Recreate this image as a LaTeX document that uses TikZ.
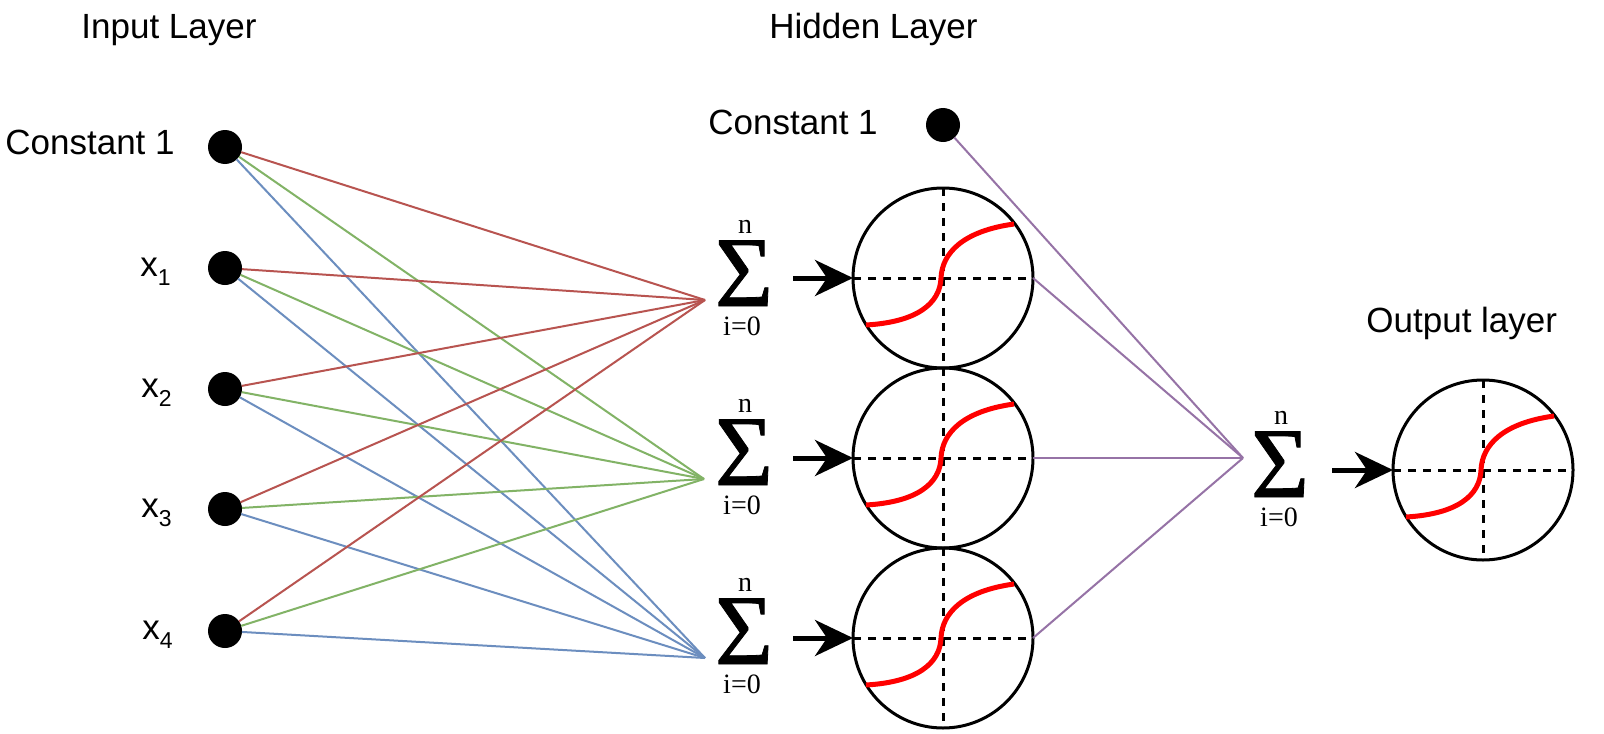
\documentclass[tikz,border=0pt]{standalone}
\usepackage{fontspec}
\setmainfont{Liberation Sans}
\newfontfamily\sigmafont{Liberation Serif}
\newfontfamily\bigsigmafont[FakeBold=0.8]{Liberation Serif}
\usetikzlibrary{arrows.meta}
\definecolor{wred}{HTML}{B85450}
\definecolor{wgreen}{HTML}{82B366}
\definecolor{wblue}{HTML}{6C8EBF}
\definecolor{wpurple}{HTML}{9673A6}

\begin{document}
\begin{tikzpicture}[x=0.5pt,y=-0.5pt,
  txt/.style={inner sep=0pt, font=\fontsize{17.5}{20}\selectfont},
  dot/.style={circle, fill=black, inner sep=0pt, outer sep=0pt, minimum size=17pt},
  unit/.style={circle, draw=black, line width=1.5pt, inner sep=0pt, outer sep=0pt, minimum size=90pt},
  axisline/.style={line width=1.5pt, dash pattern=on 4pt off 3.5pt},
  sigcurve/.style={red, line width=2.5pt},
  sumsign/.style={inner sep=0pt, anchor=base, text height=33pt, text depth=0pt,
    font=\bigsigmafont\fontsize{50}{50}\selectfont},
  sumidx/.style={inner sep=0pt, anchor=base, text height=9.5pt, text depth=0pt,
    font=\sigmafont\fontsize{14}{16}\selectfont},
  feed/.style={line width=2.5pt, -{Stealth[length=19pt, width=18pt, inset=6pt]}},
  wire/.style={line width=1pt}]

% canvas
\fill[white] (0,0) rectangle (1604,733);
\useasboundingbox (0,0) rectangle (1604,733);

% layer titles
\node[txt, anchor=base west] (tin) at (81,39) {Input Layer};
\node[txt, anchor=base west] (thid) at (769,39) {Hidden Layer};
\node[txt, anchor=base west] (tout) at (1366,332) {Output layer};

% input layer
\node[dot] (in0) at (225,147) {};
\node[dot] (in1) at (225,268) {};
\node[dot] (in2) at (225,389) {};
\node[dot] (in3) at (225,509) {};
\node[dot] (in4) at (225,631) {};
\node[txt, anchor=base west] (lin0) at (5,155) {Constant 1};
\node[txt, anchor=base west] (lin1) at (140,276) {x\raisebox{-4.5pt}{\fontsize{11.5}{12}\selectfont 1}};
\node[txt, anchor=base west] (lin2) at (141,397) {x\raisebox{-4.5pt}{\fontsize{11.5}{12}\selectfont 2}};
\node[txt, anchor=base west] (lin3) at (141,517) {x\raisebox{-4.5pt}{\fontsize{11.5}{12}\selectfont 3}};
\node[txt, anchor=base west] (lin4) at (142,639) {x\raisebox{-4.5pt}{\fontsize{11.5}{12}\selectfont 4}};

% summation points of the hidden units
\coordinate (c1) at (705,300);
\coordinate (c2) at (704,479);
\coordinate (c3) at (705,658);

\foreach \i in {0,...,4} {
  \draw[wire, wred]   (in\i) -- (c1);
  \draw[wire, wgreen] (in\i) -- (c2);
  \draw[wire, wblue]  (in\i) -- (c3);
}

% hidden layer
\node[dot] (hc) at (943,125) {};
\node[txt, anchor=base west] (lhc) at (708,134) {Constant 1};

\node[unit] (u1) at (943,278) {};
\node[unit] (u2) at (943,458) {};
\node[unit] (u3) at (943,638) {};

\node[sumsign] (s1) at (744,306) {Σ};
\node[sumsign] (s2) at (744,485) {Σ};
\node[sumsign] (s3) at (744,664) {Σ};
\node[sumidx] (n1) at (745,233) {n};
\node[sumidx] (n2) at (745,412) {n};
\node[sumidx] (n3) at (745,591) {n};
\node[sumidx] (i1) at (742,335) {i=0};
\node[sumidx] (i2) at (742,514) {i=0};
\node[sumidx] (i3) at (742,693) {i=0};

\coordinate (a1) at (793,278);
\coordinate (a2) at (793,458);
\coordinate (a3) at (793,638);
\draw[feed] (a1) -- (u1.west);
\draw[feed] (a2) -- (u2.west);
\draw[feed] (a3) -- (u3.west);

% output layer
\node[unit] (uo) at (1483,470) {};
\node[sumsign] (so) at (1280,497) {Σ};
\node[sumidx] (no) at (1281,424) {n};
\node[sumidx] (io) at (1279,526) {i=0};
\coordinate (co) at (1243,458);
\coordinate (ao) at (1332,470);
\draw[feed] (ao) -- (uo.west);

\draw[wire, wpurple] (hc) -- (co);
\draw[wire, wpurple] (u1.east) -- (co);
\draw[wire, wpurple] (u2.east) -- (co);
\draw[wire, wpurple] (u3.east) -- (co);

% axes and activation curve inside each unit
\foreach \u in {u1,u2,u3,uo} {
  \draw[axisline] (\u.west) -- (\u.east);
  \draw[axisline] (\u.north) -- (\u.south);
  \draw[sigcurve, shift={(\u.center)}]
    (-77,47) .. controls (-25,44) and (-3,25) .. (-2,0)
    .. controls (-1,-25) and (20,-47) .. (71,-54);
}
\end{tikzpicture}
\end{document}
